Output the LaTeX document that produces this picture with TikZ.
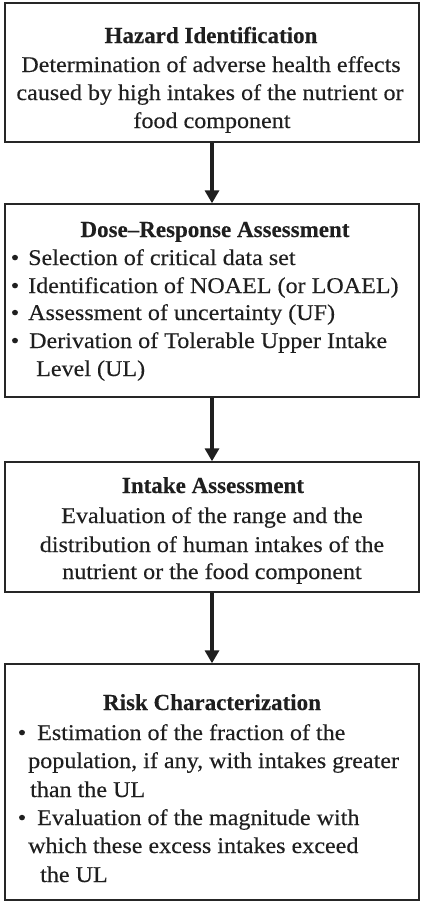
\documentclass[tikz,border=0pt]{standalone}
\usepackage{fontspec}
\setmainfont{Liberation Serif}
\newfontfamily\bodyfont[FakeStretch=1.07,FakeBold=0.3]{Liberation Serif}
\newfontfamily\headfont[FakeBold=0.3]{Liberation Serif Bold}
\usetikzlibrary{arrows.meta}
\tikzset{
  box/.style={draw=black!85, line width=1.4pt, inner sep=0pt, minimum width=414pt},
  head/.style={anchor=base, inner sep=0pt, text=black!88, font=\headfont\fontsize{23}{28}\selectfont},
  body/.style={anchor=base, inner sep=0pt, text=black!88, font=\bodyfont\fontsize{22.5}{28}\selectfont},
  bodyl/.style={body, anchor=base west},
  bul/.style={body, anchor=base},
  arr/.style={draw=black!88, -{Triangle[width=14pt,length=13pt]}, line width=3.6pt}
}
\begin{document}
\begin{tikzpicture}[x=1pt, y=-1pt]
\useasboundingbox (0,0) rectangle (421,902);
% boxes
\node[box, minimum height=139pt] (b1) at (212,72.5) {};
\node[box, minimum height=193pt] (b2) at (212,300.5) {};
\node[box, minimum height=130pt] (b3) at (212,527) {};
\node[box, minimum height=236pt] (b4) at (212,782) {};
% arrows
\draw[arr] (b1.south) -- (b2.north);
\draw[arr] (b2.south) -- (b3.north);
\draw[arr] (b3.south) -- (b4.north);
% box 1
\node[head] (h1) at (211,43) {Hazard Identification};
\node[body] (t11) at (211,72) {Determination of adverse health effects};
\node[body] (t12) at (210,100) {caused by high intakes of the nutrient or};
\node[body] (t13) at (212,128) {food component};
% box 2
\node[head] (h2) at (215,237) {Dose–Response Assessment};
\node[bul] (u21) at (15,265) {•};
\node[bodyl] (t21) at (28,265) {Selection of critical data set};
\node[bul] (u22) at (15,293) {•};
\node[bodyl] (t22) at (28,293) {Identification of NOAEL (or LOAEL)};
\node[bul] (u23) at (15,320) {•};
\node[bodyl] (t23) at (28,320) {Assessment of uncertainty (UF)};
\node[bul] (u24) at (15,348) {•};
\node[bodyl] (t24) at (29,348) {Derivation of Tolerable Upper Intake};
\node[bodyl] (t25) at (36,376) {Level (UL)};
% box 3
\node[head] (h3) at (213,493) {Intake Assessment};
\node[body] (t31) at (212,523) {Evaluation of the range and the};
\node[body] (t32) at (212,552) {distribution of human intakes of the};
\node[body] (t33) at (212,579) {nutrient or the food component};
% box 4
\node[head] (h4) at (212,710) {Risk Characterization};
\node[bul] (u41) at (22,740) {•};
\node[bodyl] (t41) at (37,740) {Estimation of the fraction of the};
\node[bodyl] (t42) at (28,768) {population, if any, with intakes greater};
\node[bodyl] (t43) at (30,797) {than the UL};
\node[bul] (u44) at (22,825) {•};
\node[bodyl] (t44) at (37,825) {Evaluation of the magnitude with};
\node[bodyl] (t45) at (28,853) {which these excess intakes exceed};
\node[bodyl] (t46) at (40,882) {the UL};
\end{tikzpicture}
\end{document}
